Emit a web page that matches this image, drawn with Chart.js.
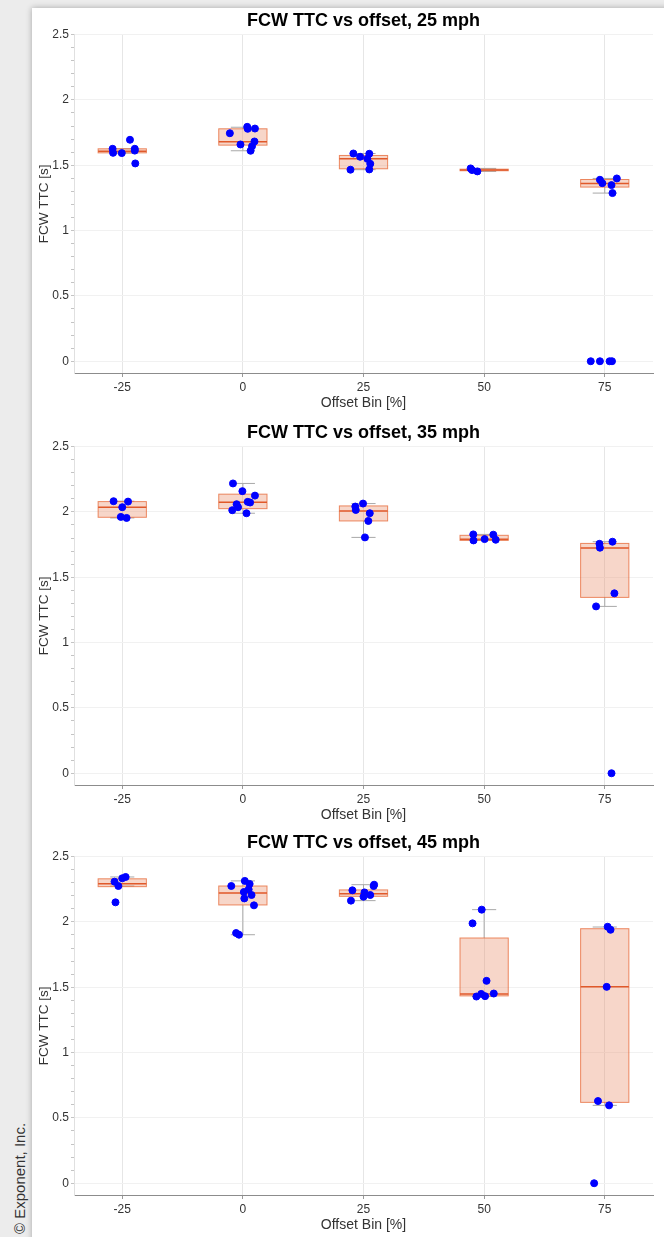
<!DOCTYPE html>
<html>
<head>
<meta charset="utf-8">
<script src="https://cdn.jsdelivr.net/npm/chart.js@4.4.1/dist/chart.umd.min.js"></script>
<style>
  body { margin: 0; width: 664px; height: 1237px; overflow: hidden; position: relative; background: #ececec; font-family: "Liberation Sans", Arial, sans-serif; }
  .sheet { position: absolute; left: 32px; top: 8px; width: 650px; height: 1250px; background: #fff; box-shadow: 0 0 6px rgba(0,0,0,0.3); }
  canvas { position: absolute; left: 30px; }
  .copy { position: absolute; left: 11px; top: 1234px; font-size: 15px; line-height: 18px; color: #333; white-space: nowrap; transform: rotate(-90deg); transform-origin: left top; }
</style>
</head>
<body>
<div class="sheet"></div>
<canvas id="c25" width="634" height="410" style="top:8px"></canvas>
<canvas id="c35" width="634" height="410" style="top:420px"></canvas>
<canvas id="c45" width="634" height="410" style="top:830px"></canvas>
<div class="copy">© Exponent, Inc.</div>
<script>
const offsets = [-25, 0, 25, 50, 75];

// 25 mph
const q1_25 = [1.595, 1.654, 1.473, 1.458, 1.333];
const med_25 = [1.608, 1.680, 1.550, 1.464, 1.361];
const q3_25 = [1.626, 1.779, 1.575, 1.470, 1.391];
const lo_25 = [1.593, 1.611, 1.466, 1.453, 1.287];
const hi_25 = [1.626, 1.791, 1.590, 1.476, 1.399];
const pts_25 = [
  [-27.0, 1.626], [-26.9, 1.595], [-25.1, 1.593], [-23.4, 1.695], [-22.4, 1.626], [-22.3, 1.514], [-22.4, 1.612],
  [-2.7, 1.745], [-0.5, 1.659], [0.9, 1.794], [1.0, 1.779], [2.5, 1.781], [2.4, 1.682], [1.9, 1.646], [1.6, 1.611],
  [22.9, 1.590], [22.3, 1.466], [24.3, 1.565], [26.2, 1.588], [25.8, 1.549], [26.4, 1.511], [26.2, 1.468],
  [47.2, 1.476], [47.5, 1.463], [48.6, 1.453],
  [74.0, 1.389], [74.5, 1.363], [77.5, 1.399], [76.4, 1.348], [76.6, 1.287], [72.1, 0], [74.0, 0], [76.0, 0], [76.5, 0]
];

// 35 mph
const q1_35 = [1.959, 2.025, 1.931, 1.782, 1.346];
const med_35 = [2.036, 2.074, 2.008, 1.790, 1.723];
const q3_35 = [2.079, 2.136, 2.046, 1.821, 1.759];
const lo_35 = [1.954, 1.990, 1.805, 1.782, 1.277];
const hi_35 = [2.082, 2.218, 2.064, 1.828, 1.772];
const pts_35 = [
  [-26.8, 2.082], [-23.8, 2.079], [-25.0, 2.036], [-25.3, 1.962], [-24.1, 1.954],
  [-2.05, 2.218], [-0.1, 2.159], [2.5, 2.125], [-1.3, 2.059], [1.0, 2.077], [1.5, 2.072], [-1.0, 2.036], [-2.2, 2.013], [0.75, 1.990],
  [23.3, 2.041], [23.4, 2.015], [24.9, 2.064], [26.3, 1.990], [26.0, 1.931], [25.3, 1.805],
  [47.75, 1.828], [47.8, 1.782], [50.1, 1.792], [51.9, 1.826], [52.4, 1.787],
  [73.9, 1.756], [74.0, 1.726], [76.6, 1.772], [77.0, 1.377], [73.2, 1.277], [76.4, 0]
];

// 45 mph
const q1_45 = [2.270, 2.130, 2.196, 1.434, 0.619];
const med_45 = [2.293, 2.222, 2.216, 1.449, 1.503];
const q3_45 = [2.330, 2.275, 2.245, 1.877, 1.948];
const lo_45 = [2.275, 1.902, 2.163, 1.429, 0.596];
const hi_45 = [2.344, 2.314, 2.285, 2.094, 1.961];
const pts_45 = [
  [-26.6, 2.308], [-25.8, 2.275], [-25.0, 2.334], [-24.3, 2.344], [-26.4, 2.150],
  [-2.4, 2.275], [0.4, 2.314], [1.4, 2.291], [1.2, 2.249], [0.2, 2.229], [1.8, 2.206], [0.3, 2.180], [2.3, 2.127], [-1.4, 1.915], [-0.8, 1.902],
  [22.7, 2.242], [25.2, 2.226], [25.0, 2.193], [26.4, 2.206], [27.2, 2.285], [27.1, 2.275], [22.4, 2.163],
  [49.5, 2.094], [47.6, 1.989], [50.5, 1.549], [49.4, 1.449], [48.4, 1.429], [50.2, 1.432], [52.0, 1.452],
  [75.6, 1.963], [76.2, 1.940], [75.4, 1.503], [73.6, 0.629], [75.9, 0.596], [72.8, 0]
];

Chart.defaults.font.family = '"Liberation Sans", Arial, sans-serif';

function boxPlugin(q1, med, q3, lo, hi) {
  return {
    id: 'boxes',
    beforeDatasetsDraw(chart) {
      const ctx = chart.ctx;
      const x = chart.scales.x;
      const y = chart.scales.y;
      ctx.save();
      offsets.forEach((o, i) => {
        const xl = x.getPixelForValue(o - 5);
        const xr = x.getPixelForValue(o + 5);
        const xc = x.getPixelForValue(o);
        const cl = x.getPixelForValue(o - 2.5);
        const cr = x.getPixelForValue(o + 2.5);
        const yt = y.getPixelForValue(q3[i]);
        const yb = y.getPixelForValue(q1[i]);
        // whiskers
        ctx.strokeStyle = '#a8a8a8';
        ctx.lineWidth = 1;
        ctx.beginPath();
        ctx.moveTo(xc, yt); ctx.lineTo(xc, y.getPixelForValue(hi[i]));
        ctx.moveTo(xc, yb); ctx.lineTo(xc, y.getPixelForValue(lo[i]));
        ctx.moveTo(cl, y.getPixelForValue(hi[i])); ctx.lineTo(cr, y.getPixelForValue(hi[i]));
        ctx.moveTo(cl, y.getPixelForValue(lo[i])); ctx.lineTo(cr, y.getPixelForValue(lo[i]));
        ctx.stroke();
        // box
        ctx.fillStyle = 'rgba(232, 140, 105, 0.36)';
        ctx.fillRect(xl, yt, xr - xl, yb - yt);
        ctx.strokeStyle = 'rgba(230, 100, 50, 0.75)';
        ctx.strokeRect(xl, yt, xr - xl, yb - yt);
        // median
        ctx.strokeStyle = '#e0592a';
        ctx.lineWidth = 1.5;
        ctx.beginPath();
        ctx.moveTo(xl, y.getPixelForValue(med[i]));
        ctx.lineTo(xr, y.getPixelForValue(med[i]));
        ctx.stroke();
      });
      ctx.restore();
    }
  };
}

function isMajor(v) {
  return Math.abs(Math.round(v * 10) % 5) === 0;
}

function makePanel(id, title, q1, med, q3, lo, hi, pts) {
  const yTicks = [];
  for (let i = 0; i <= 25; i++) yTicks.push(i / 10);

  new Chart(document.getElementById(id), {
    type: 'scatter',
    data: {
      datasets: [{
        data: pts.map(p => ({ x: p[0], y: p[1] })),
        backgroundColor: '#0000ff',
        borderColor: '#0000ff',
        pointRadius: 3.5,
        pointHoverRadius: 3.5
      }]
    },
    options: {
      responsive: false,
      animation: false,
      layout: { padding: { right: 11 } },
      plugins: {
        legend: { display: false },
        tooltip: { enabled: false },
        title: {
          display: true,
          text: title,
          fullSize: false,
          color: '#000',
          font: { size: 18, weight: 'bold' },
          padding: { top: 2, bottom: 3 }
        }
      },
      scales: {
        x: {
          type: 'linear',
          min: -35,
          max: 85,
          afterBuildTicks: s => { s.ticks = offsets.map(v => ({ value: v })); },
          afterFit: s => { s.height = 45; },
          grid: { color: '#e6e6e6', tickLength: 4, tickColor: '#999' },
          border: { color: '#8c8c8c' },
          ticks: { color: '#333', font: { size: 12 }, padding: 3, autoSkip: false, maxRotation: 0 },
          title: { display: true, text: 'Offset Bin [%]', color: '#333', font: { size: 14 }, padding: { top: 0, bottom: 6 } }
        },
        y: {
          min: -0.09,
          max: 2.5,
          afterBuildTicks: s => { s.ticks = yTicks.map(v => ({ value: v })); },
          afterFit: s => { s.width = 44; },
          grid: {
            color: c => (c.tick && isMajor(c.tick.value)) ? '#f1f1f1' : 'rgba(0,0,0,0)',
            tickColor: '#c4c4c4',
            tickLength: 3
          },
          border: { color: '#e0e0e0' },
          ticks: {
            color: '#333',
            font: { size: 12 },
            padding: 2,
            autoSkip: false,
            callback: v => isMajor(v) ? String(Math.round(v * 10) / 10) : ''
          },
          title: { display: true, text: 'FCW TTC [s]', color: '#333', font: { size: 13.5 }, padding: { top: 6, bottom: 2 } }
        }
      }
    },
    plugins: [boxPlugin(q1, med, q3, lo, hi)]
  });
}

makePanel('c25', 'FCW TTC vs offset, 25 mph', q1_25, med_25, q3_25, lo_25, hi_25, pts_25);
makePanel('c35', 'FCW TTC vs offset, 35 mph', q1_35, med_35, q3_35, lo_35, hi_35, pts_35);
makePanel('c45', 'FCW TTC vs offset, 45 mph', q1_45, med_45, q3_45, lo_45, hi_45, pts_45);
</script>
</body>
</html>
